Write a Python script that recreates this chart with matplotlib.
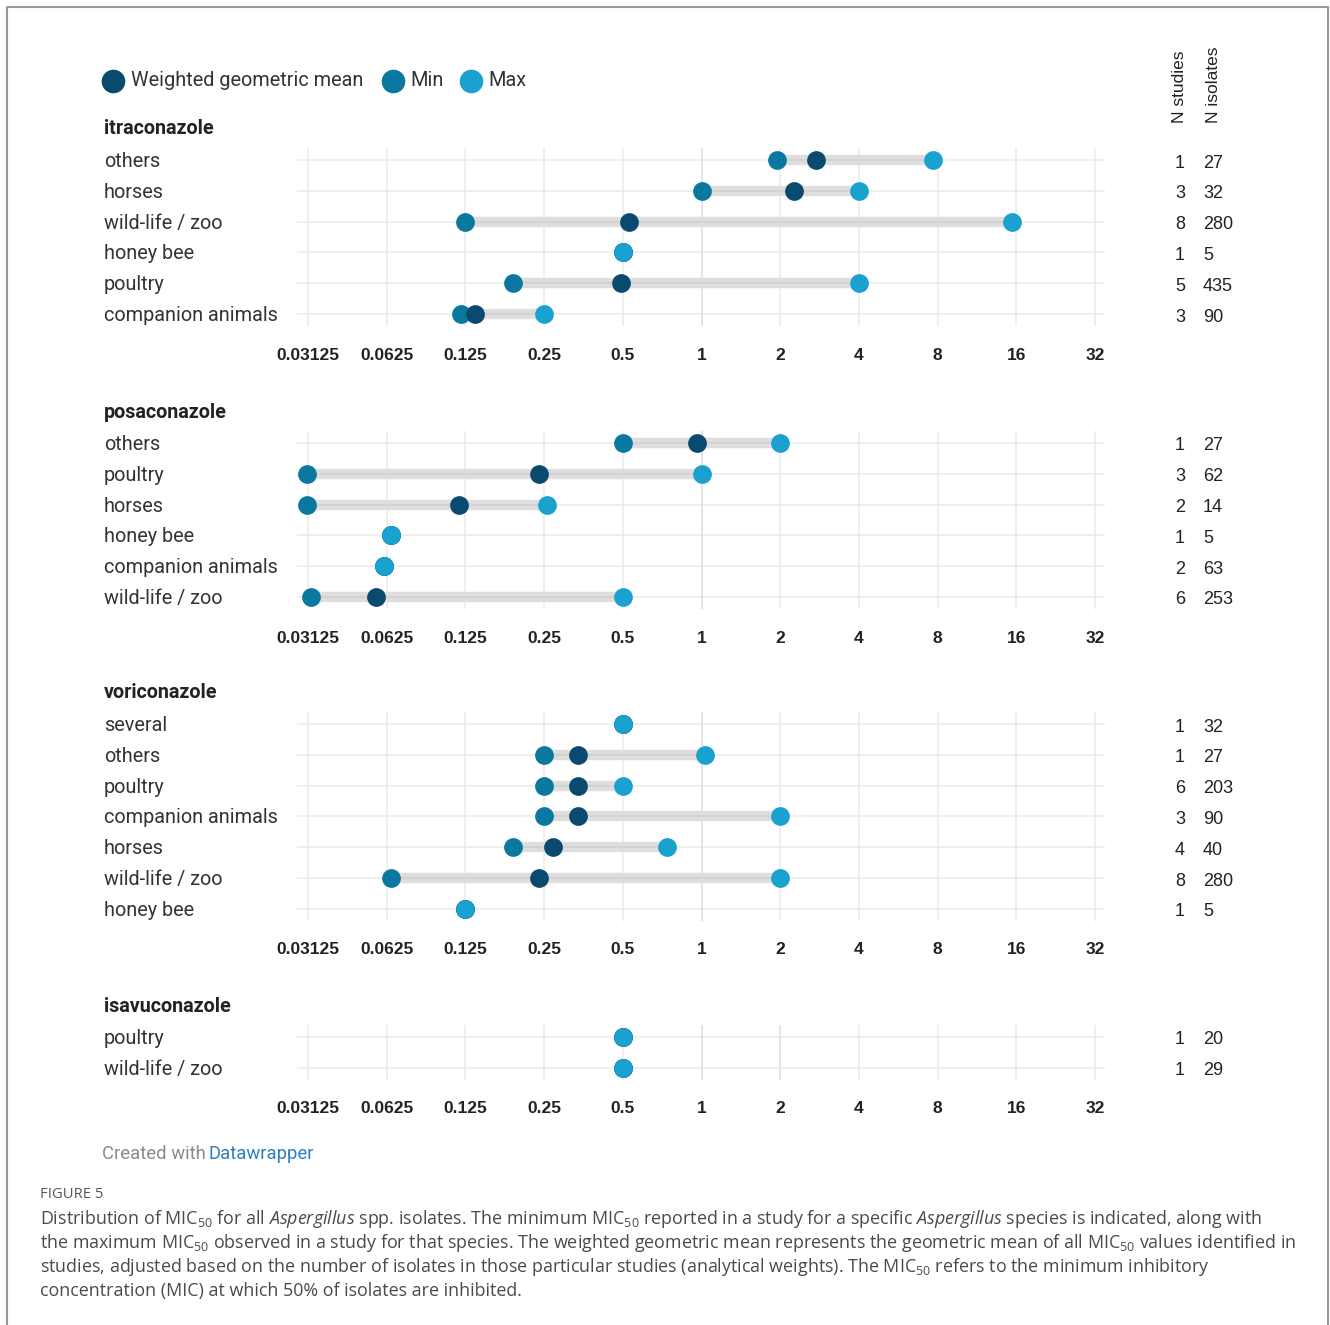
import numpy as np
import matplotlib
matplotlib.use('Agg')
import matplotlib.pyplot as plt
from matplotlib.lines import Line2D
from matplotlib.transforms import blended_transform_factory

W, H = 1330, 1325

plt.rcParams['font.family'] = ['Roboto', 'DejaVu Sans']
plt.rcParams['mathtext.fontset'] = 'custom'
plt.rcParams['mathtext.rm'] = 'Open Sans'
plt.rcParams['mathtext.it'] = 'Open Sans:italic'

# ---- data (MIC50, mg/L) ----
drugs = ['itraconazole', 'posaconazole', 'voriconazole', 'isavuconazole']

itra_groups = ['others', 'horses', 'wild-life / zoo', 'honey bee', 'poultry', 'companion animals']
itra_min = [1.95, 1.0, 0.125, 0.5, 0.19, 0.12]
itra_mean = [2.74, 2.26, 0.53, 0.5, 0.49, 0.136]
itra_max = [7.7, 4.0, 15.4, 0.5, 4.0, 0.25]
itra_studies = [1, 3, 8, 1, 5, 3]
itra_isolates = [27, 32, 280, 5, 435, 90]

posa_groups = ['others', 'poultry', 'horses', 'honey bee', 'companion animals', 'wild-life / zoo']
posa_min = [0.5, 0.031, 0.031, 0.065, 0.061, 0.032]
posa_mean = [0.96, 0.24, 0.118, 0.065, 0.061, 0.057]
posa_max = [2.0, 1.0, 0.257, 0.065, 0.061, 0.5]
posa_studies = [1, 3, 2, 1, 2, 6]
posa_isolates = [27, 62, 14, 5, 63, 253]

vori_groups = ['several', 'others', 'poultry', 'companion animals', 'horses', 'wild-life / zoo', 'honey bee']
vori_min = [0.5, 0.25, 0.25, 0.25, 0.19, 0.065, 0.125]
vori_mean = [0.5, 0.337, 0.337, 0.337, 0.27, 0.24, 0.125]
vori_max = [0.5, 1.03, 0.5, 2.0, 0.74, 2.0, 0.125]
vori_studies = [1, 1, 6, 3, 4, 8, 1]
vori_isolates = [32, 27, 203, 90, 40, 280, 5]

isa_groups = ['poultry', 'wild-life / zoo']
isa_min = [0.5, 0.5]
isa_mean = [0.5, 0.5]
isa_max = [0.5, 0.5]
isa_studies = [1, 1]
isa_isolates = [20, 29]

tick_values = [0.03125, 0.0625, 0.125, 0.25, 0.5, 1, 2, 4, 8, 16, 32]
tick_labels = ['0.03125', '0.0625', '0.125', '0.25', '0.5', '1', '2', '4', '8', '16', '32']

panels = [
    (itra_groups, itra_min, itra_mean, itra_max, itra_studies, itra_isolates),
    (posa_groups, posa_min, posa_mean, posa_max, posa_studies, posa_isolates),
    (vori_groups, vori_min, vori_mean, vori_max, vori_studies, vori_isolates),
    (isa_groups, isa_min, isa_mean, isa_max, isa_studies, isa_isolates),
]
ref_lines = [[1], [1], [1], [1, 2]]

c_mean = '#0b4a6f'
c_min = '#0a789f'
c_max = '#1ba1cf'

first_row = [160, 443, 724, 1037]
title_y = [128, 411, 692, 1005]
gap = 30.8

fig = plt.figure(figsize=(W / 100, H / 100), dpi=100)


def fx(px):
    return px / W


def fy(py):
    return 1 - py / H


for k, (groups, mins, means, maxs, studies, isolates) in enumerate(panels):
    n = len(groups)
    top = first_row[k] - 12
    bottom = first_row[k] + (n - 1) * gap + 12
    ax = fig.add_axes([fx(297), fy(bottom), (1105 - 297) / W, (bottom - top) / H])
    ax.set_xscale('log', base=2)
    ax.set_xlim(2 ** -5.14, 2 ** 5.127)
    ax.set_ylim(n - 1 + 12 / gap, -12 / gap)
    for s in ax.spines.values():
        s.set_visible(False)
    ax.set_yticks([])
    ax.set_xticks(tick_values, tick_labels)
    ax.minorticks_off()
    ax.tick_params(axis='x', length=0, pad=15.5)
    for lab in ax.get_xticklabels():
        lab.set_fontfamily('Liberation Sans')
        lab.set_fontweight('bold')
        lab.set_fontsize(12.5)
        lab.set_color('#222222')
    ax.grid(axis='x', color='#ebebeb', lw=1.1, zorder=0)
    ax.set_axisbelow(True)
    for v in ref_lines[k]:
        ax.axvline(v, color='#cccccc', lw=1.2, zorder=0.5)
    y = np.arange(n)
    for yi in y:
        ax.axhline(yi, color='#ebebeb', lw=1.1, zorder=0.4)
    ax.hlines(y, mins, maxs, color='#dedede', lw=7.5, zorder=1)
    ax.hlines(y, mins, maxs, color='#d3d3d3', lw=1.5, zorder=1.1)
    ax.plot(mins, y, 'o', color=c_min, ms=13.5, mew=0, zorder=3)
    ax.plot(means, y, 'o', color=c_mean, ms=13.5, mew=0, zorder=4)
    ax.plot(maxs, y, 'o', color=c_max, ms=13.5, mew=0, zorder=5)

    tr = blended_transform_factory(fig.transFigure, ax.transData)
    for i, g in enumerate(groups):
        ax.text(fx(104), i + 1.5 / gap, g, transform=tr, ha='left', va='center',
                fontsize=14.3, color='#333333', clip_on=False)
        ax.text(fx(1180), i + 3 / gap, str(studies[i]), transform=tr, ha='center', va='center',
                fontsize=13, family='Liberation Sans', color='#222222', clip_on=False)
        ax.text(fx(1203), i + 3 / gap, str(isolates[i]), transform=tr, ha='left', va='center',
                fontsize=13, family='Liberation Sans', color='#222222', clip_on=False)

    fig.text(fx(104), fy(title_y[k] + 1), drugs[k], ha='left', va='center',
             fontsize=14.2, fontweight='bold', color='#222222')

# legend
for px, c, label, tx in [(113, c_mean, 'Weighted geometric mean', 131),
                         (393, c_min, 'Min', 410),
                         (471, c_max, 'Max', 488)]:
    fig.add_artist(Line2D([fx(px)], [fy(81)], marker='o', ms=17, mew=0, color=c,
                          transform=fig.transFigure))
    fig.text(fx(tx), fy(81), label, ha='left', va='center', fontsize=14.3, color='#333333')

# column headers
fig.text(fx(1180), fy(123), 'N studies', rotation=90, ha='center', va='bottom',
         fontsize=12.5, family='Liberation Sans', color='#222222')
fig.text(fx(1213), fy(123), 'N isolates', rotation=90, ha='center', va='bottom',
         fontsize=12.5, family='Liberation Sans', color='#222222')

# footer
fig.text(fx(102), fy(1154), 'Created with', ha='left', va='center', fontsize=13.3, color='#8a8a8a')
fig.text(fx(209), fy(1154), 'Datawrapper', ha='left', va='center', fontsize=13.3, color='#2d7fc1')

# caption
fig.text(fx(40), fy(1195), 'FIGURE 5', ha='left', va='center', fontsize=10.6, family='Open Sans', color='#555555')
caption = [
    'Distribution of MIC$_{50}$ for all $\\mathit{Aspergillus}$ spp. isolates. The minimum MIC$_{50}$ reported in a study for a specific $\\mathit{Aspergillus}$ species is indicated, along with',
    'the maximum MIC$_{50}$ observed in a study for that species. The weighted geometric mean represents the geometric mean of all MIC$_{50}$ values identified in',
    'studies, adjusted based on the number of isolates in those particular studies (analytical weights). The MIC$_{50}$ refers to the minimum inhibitory',
    'concentration (MIC) at which 50% of isolates are inhibited.',
]
for i, line in enumerate(caption):
    fig.text(fx(40), fy(1219 + 24 * i), line, ha='left', va='center', fontsize=12.9,
             family='Open Sans', color='#4a4a4a')

# frame
fig.add_artist(Line2D([fx(7), fx(7), fx(1328), fx(1328)], [0, fy(7), fy(7), 0],
                      color='#999999', lw=1.5, transform=fig.transFigure))

fig.savefig('out.png', dpi=100, facecolor='white')
